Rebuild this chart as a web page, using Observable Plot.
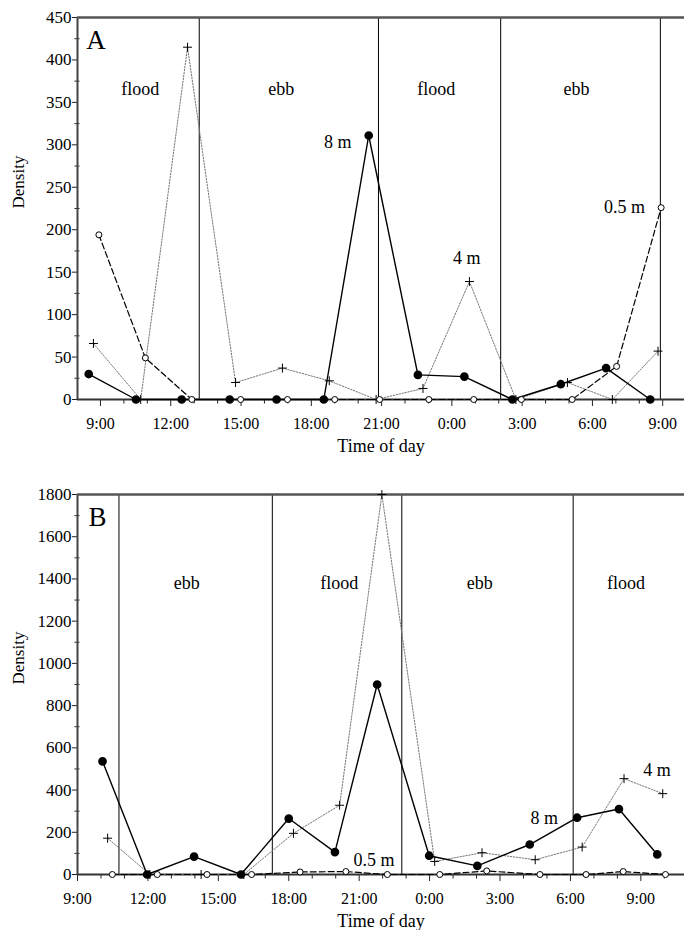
<!DOCTYPE html>
<html><head><meta charset="utf-8">
<script src="https://cdn.jsdelivr.net/npm/d3@7"></script>
<script src="https://cdn.jsdelivr.net/npm/@observablehq/plot@0.6"></script>
<style>
body{margin:0;background:#fff}
#chart svg{display:block}
#chart svg, #chart svg text{font-family:'Liberation Serif','DejaVu Serif',serif !important; font-variant: normal !important;}
</style>
</head><body><div id="chart"></div>
<script>
// ---------- Panel A data ----------
const timesA8 = ["1 8:30","1 10:31","1 12:28","1 14:31","1 16:31","1 18:32","1 20:27","1 22:33","2 0:32","2 2:35","2 4:39","2 6:35","2 8:28"];
const valuesA8 = [30,0,0,0,0,0,311,29,27,0,18,37,0];
const timesA4 = ["1 8:42","1 10:43","1 12:43","1 14:46","1 16:46","1 18:46","1 20:46","1 22:46","2 0:45","2 2:44","2 4:56","2 6:51","2 8:48"];
const valuesA4 = [66,0,415,20,37,22,0,13,139,0,20,0,57];
const timesA05 = ["1 8:56","1 10:55","1 12:54","1 14:59","1 16:59","1 19:00","1 20:55","1 23:01","2 0:56","2 2:58","2 5:08","2 7:02","2 8:56"];
const valuesA05 = [194,49,0,0,0,0,0,0,0,0,0,39,226];
const tidesA = ["1 13:13","1 20:52","2 2:05","2 8:54"];
const tideNamesA = ["flood","ebb","flood","ebb"];
const tideLabelTimesA = ["1 10:42","1 16:43","1 23:20","2 5:19"];
const seriesNamesA = ["8 m","4 m","0.5 m"];
const seriesLabelTimesA = ["1 19:08","2 0:38","2 7:22"];
const seriesLabelValuesA = [303,166,227];
const yTicksA = [0,50,100,150,200,250,300,350,400,450];

// ---------- Panel B data ----------
const timesB8 = ["1 10:04","1 11:58","1 13:58","1 15:58","1 18:00","1 19:58","1 21:46","1 23:59","2 2:02","2 4:16","2 6:17","2 8:04","2 9:42"];
const valuesB8 = [536,0,85,0,265,106,900,89,41,142,269,310,95];
const timesB4 = ["1 10:17","1 12:05","1 14:16","1 16:05","1 18:12","1 20:10","1 21:58","2 0:13","2 2:14","2 4:30","2 6:30","2 8:17","2 9:56"];
const valuesB4 = [172,0,0,0,195,328,1800,62,103,70,130,454,383];
const timesB05 = ["1 10:29","1 12:24","1 14:31","1 16:25","1 18:29","1 20:26","1 22:12","2 0:26","2 2:26","2 4:42","2 6:40","2 8:15","2 10:03"];
const valuesB05 = [0,0,0,0,12,14,0,0,17,0,0,14,0];
const tidesB = ["1 10:46","1 17:18","1 22:49","2 6:07"];
const tideNamesB = ["ebb","flood","ebb","flood"];
const tideLabelTimesB = ["1 13:39","1 20:09","2 2:08","2 8:22"];
const seriesNamesB = ["0.5 m","8 m","4 m"];
const seriesLabelTimesB = ["1 21:38","2 4:53","2 9:41"];
const seriesLabelValuesB = [68,266,492];
const yTicksB = [0,200,400,600,800,1000,1200,1400,1600,1800];

function toHour(s) {
  const [d, t] = s.split(" ");
  const [h, m] = t.split(":").map(Number);
  return (Number(d) - 1) * 24 + h + m / 60;
}
function rows(times, values) { return times.map((t, i) => ({x: toHour(t), y: values[i]})); }

function panel(cfg) {
  const [x0, x1] = cfg.xDomain;
  const [y0, y1] = cfg.yDomain;
  const xMajor = d3.range(Math.ceil(x0 / 3) * 3, x1, 3);
  const xMinor = d3.range(Math.ceil(x0), x1, 1).filter(h => h % 3 !== 0);
  const yMinor = d3.range(y0 + cfg.yStep / 2, y1, cfg.yStep);
  const s8 = rows(cfg.t8, cfg.v8), s4 = rows(cfg.t4, cfg.v4), s05 = rows(cfg.t05, cfg.v05);
  const tideLabels = cfg.tideNames.map((n, i) => ({x: toHour(cfg.tideLabelTimes[i]), y: cfg.tideY, n}));
  const serLabels = cfg.seriesNames.map((n, i) => ({x: toHour(cfg.seriesLabelTimes[i]), y: cfg.seriesLabelValues[i], n}));
  return Plot.plot({
    width: 684, height: 465,
    marginLeft: 77, marginRight: 0, marginTop: cfg.marginTop, marginBottom: cfg.marginBottom,
    style: {background: "white", color: "black"},
    x: {domain: cfg.xDomain},
    y: {domain: cfg.yDomain},
    marks: [
      Plot.ruleX(cfg.tides.map(toHour), {x: d => d, y1: y0, y2: y1, stroke: "black", strokeWidth: 1}),
      // axis ticks
      Plot.axisX(xMinor, {anchor: "bottom", tickSize: 4.5, text: null, stroke: "#222", label: null}),
      Plot.axisX(xMajor, {anchor: "bottom", tickSize: 7, tickPadding: 11, stroke: "#222",
        tickFormat: h => `${h % 24}:00`, fontSize: 16, label: null}),
      Plot.axisY(yMinor, {anchor: "left", tickSize: 5, dx: 2.5, text: null, stroke: "#222", label: null}),
      Plot.axisY(cfg.yTicks, {anchor: "left", tickSize: 5, tickPadding: 1, stroke: "#222",
        tickFormat: d => String(d), fontSize: 17, label: null}),
      Plot.ruleX([x0], {stroke: "#444", strokeWidth: 2}),
      Plot.ruleY([y0], {stroke: "#333", strokeWidth: 2}),
      Plot.ruleY([y1], {stroke: "#555", strokeWidth: 2.5}),
      // series
      Plot.line(s4, {x: "x", y: "y", stroke: "#777", strokeWidth: 1, strokeDasharray: "1.5,1.5"}),
      Plot.line(s05, {x: "x", y: "y", stroke: "black", strokeWidth: 1.2, strokeDasharray: "6,3"}),
      Plot.line(s8, {x: "x", y: "y", stroke: "black", strokeWidth: 1.4}),
      Plot.dot(s4, {x: "x", y: "y", symbol: "plus", r: 3, stroke: "black", strokeWidth: 1}),
      Plot.dot(s05, {x: "x", y: "y", r: 3, fill: "white", stroke: "black", strokeWidth: 1}),
      Plot.dot(s8, {x: "x", y: "y", r: 3.6, fill: "black", stroke: "black"}),
      // texts
      Plot.text(tideLabels, {x: "x", y: "y", text: "n", fontSize: 18, fill: "black"}),
      Plot.text(serLabels, {x: "x", y: "y", text: "n", fontSize: 18, fill: "black"}),
      Plot.text([cfg.letter], {x: cfg.letterX, y: cfg.letterY, text: d => d, fontSize: 27, fill: "black"}),
      Plot.text(["Density"], {frameAnchor: "left", dx: -59, rotate: -90, text: d => d, fontSize: 17, fill: "black"}),
      Plot.text(["Time of day"], {frameAnchor: "bottom", lineAnchor: "middle", dy: 47, text: d => d, fontSize: 18, fill: "black"})
    ]
  });
}

const chart = document.getElementById("chart");
chart.append(panel({
  t8: timesA8, v8: valuesA8, t4: timesA4, v4: valuesA4, t05: timesA05, v05: valuesA05,
  tides: tidesA, tideNames: tideNamesA, tideLabelTimes: tideLabelTimesA, tideY: 366,
  seriesNames: seriesNamesA, seriesLabelTimes: seriesLabelTimesA, seriesLabelValues: seriesLabelValuesA,
  letter: "A", letterX: 8.81, letterY: 423,
  xDomain: [8.02, 33.93], yDomain: [0, 450], yTicks: yTicksA, yStep: 50,
  marginTop: 17, marginBottom: 66
}));
chart.append(panel({
  t8: timesB8, v8: valuesB8, t4: timesB4, v4: valuesB4, t05: timesB05, v05: valuesB05,
  tides: tidesB, tideNames: tideNamesB, tideLabelTimes: tideLabelTimesB, tideY: 1378,
  seriesNames: seriesNamesB, seriesLabelTimes: seriesLabelTimesB, seriesLabelValues: seriesLabelValuesB,
  letter: "B", letterX: 9.85, letterY: 1691,
  xDomain: [9, 34.86], yDomain: [0, 1800], yTicks: yTicksB, yStep: 200,
  marginTop: 29, marginBottom: 56
}));
</script>
</body></html>
